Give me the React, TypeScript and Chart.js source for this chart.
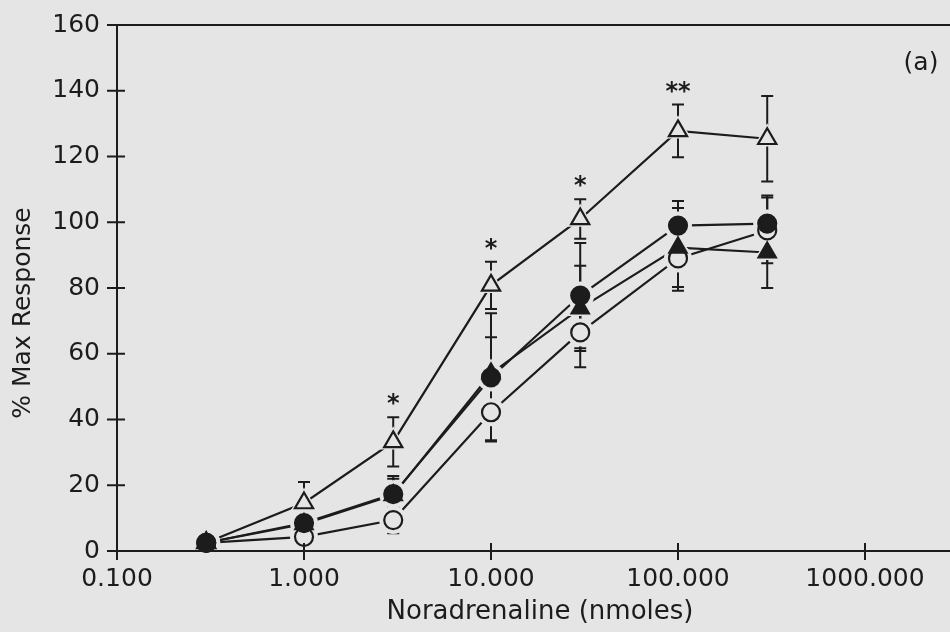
import { useEffect, useRef } from "react";
import { Chart, registerables } from "chart.js";

Chart.register(...registerables);

// ---- data ----
const doses = [0.3, 1, 3, 10, 30, 100, 300];

const openTriangle = [2.5, 14.6, 33.2, 80.8, 101, 127.8, 125.4];
const openTriangleErr = [0, 6.4, 7.5, 7.2, 6, 8, 13];

const filledCircle = [2.5, 8.5, 17.3, 52.8, 77.7, 99, 99.6];
const filledCircleErr = [0, 2, 5.5, 19.5, 16, 7.5, 8.5];

const filledTriangle = [2.5, 8.2, 17, 54, 73.8, 92.3, 90.8];
const filledTriangleErr = [0, 1.5, 5, 11, 13, 12, 10.8];

const openCircle = [2.5, 4.3, 9.4, 42.2, 66.5, 89, 97.5];
const openCircleErr = [0, 3, 4, 8.5, 10.6, 9.8, 10];

const starDoses = [3, 10, 30, 100];
const starLabels = ["*", "*", "*", "**"];

const xTickValues = [0.1, 1, 10, 100, 1000];
const xTickLabels = ["0.100", "1.000", "10.000", "100.000", "1000.000"];
const yTickValues = [0, 20, 40, 60, 80, 100, 120, 140, 160];

const xTitle = "Noradrenaline (nmoles)";
const yTitle = "% Max Response";
const panelLabel = "(a)";

// ---- styles ----
const BG = "#e5e5e5";
const INK = "#1c1c1c";
const FONT = "'DejaVu Sans', sans-serif";

type Series = {
  values: number[];
  err: number[];
  style: "triangle" | "circle";
  filled: boolean;
  r: number;
};

// first entry is drawn on top (Chart.js draws lower dataset index last)
const series: Series[] = [
  { values: filledCircle, err: filledCircleErr, style: "circle", filled: true, r: 9 },
  { values: filledTriangle, err: filledTriangleErr, style: "triangle", filled: true, r: 10 },
  { values: openTriangle, err: openTriangleErr, style: "triangle", filled: false, r: 10.5 },
  { values: openCircle, err: openCircleErr, style: "circle", filled: false, r: 9 },
];

const toPoints = (vals: number[]) => doses.map((x, i) => ({ x, y: vals[i] }));

export default function App() {
  const ref = useRef<HTMLCanvasElement | null>(null);

  useEffect(() => {
    if (!ref.current) return;
    const datasets: any[] = [];
    series.forEach((s) => {
      datasets.push({
        type: "line",
        data: toPoints(s.values),
        borderColor: INK,
        borderWidth: 2.2,
        pointRadius: 0,
        showLine: true,
        clip: false,
        order: 3,
      });
      datasets.push({
        type: "line",
        data: toPoints(s.values),
        showLine: false,
        pointStyle: s.style,
        pointRadius: s.r + 5,
        pointBackgroundColor: BG,
        pointBorderColor: BG,
        pointBorderWidth: 0,
        clip: false,
        order: 2,
      });
      datasets.push({
        type: "line",
        data: toPoints(s.values),
        showLine: false,
        pointStyle: s.style,
        pointRadius: s.r,
        pointBackgroundColor: s.filled ? INK : BG,
        pointBorderColor: INK,
        pointBorderWidth: 2.2,
        clip: false,
        order: 1,
      });
    });

    const bgPlugin = {
      id: "bg",
      beforeDraw(chart: any) {
        const ctx = chart.ctx;
        ctx.save();
        ctx.fillStyle = BG;
        ctx.fillRect(0, 0, chart.width, chart.height);
        ctx.restore();
      },
    };

    const errPlugin = {
      id: "errs",
      beforeDatasetsDraw(chart: any) {
        const ctx = chart.ctx;
        const xs = chart.scales.x;
        const ys = chart.scales.y;
        ctx.save();
        ctx.strokeStyle = INK;
        ctx.lineWidth = 2;
        series.forEach((s) => {
          doses.forEach((d, i) => {
            const e = s.err[i];
            if (!e) return;
            const px = xs.getPixelForValue(d);
            const top = ys.getPixelForValue(s.values[i] + e);
            const bot = ys.getPixelForValue(s.values[i] - e);
            ctx.beginPath();
            ctx.moveTo(px, top);
            ctx.lineTo(px, bot);
            ctx.moveTo(px - 6, top);
            ctx.lineTo(px + 6, top);
            ctx.moveTo(px - 6, bot);
            ctx.lineTo(px + 6, bot);
            ctx.stroke();
          });
        });
        ctx.restore();
      },
    };

    const axesPlugin = {
      id: "axes",
      afterDatasetsDraw(chart: any) {
        const ctx = chart.ctx;
        const a = chart.chartArea;
        const xs = chart.scales.x;
        const ys = chart.scales.y;
        ctx.save();
        ctx.strokeStyle = INK;
        ctx.lineWidth = 2;
        ctx.beginPath();
        ctx.moveTo(a.left, a.top);
        ctx.lineTo(a.left, a.bottom);
        ctx.moveTo(a.left - 10, a.bottom);
        ctx.lineTo(a.right, a.bottom);
        ctx.moveTo(a.left - 10, a.top);
        ctx.lineTo(a.right, a.top);
        yTickValues.forEach((v) => {
          const py = ys.getPixelForValue(v);
          ctx.moveTo(a.left - 10, py);
          ctx.lineTo(a.left + 8, py);
        });
        xTickValues.forEach((v) => {
          const px = xs.getPixelForValue(v);
          ctx.moveTo(px, a.bottom - 8);
          ctx.lineTo(px, a.bottom + 9);
        });
        ctx.stroke();

        // significance stars
        ctx.fillStyle = INK;
        ctx.font = `bold 24px ${FONT}`;
        ctx.textAlign = "center";
        ctx.textBaseline = "middle";
        starDoses.forEach((d, k) => {
          const i = doses.indexOf(d);
          const px = xs.getPixelForValue(d);
          const py = ys.getPixelForValue(openTriangle[i] + openTriangleErr[i]);
          ctx.fillText(starLabels[k], px, py - 12);
        });

        // titles
        ctx.font = `26px ${FONT}`;
        ctx.textBaseline = "middle";
        ctx.fillText(xTitle, 540, 612);
        ctx.font = `25px ${FONT}`;
        ctx.fillText(panelLabel, 921, 63);
        ctx.save();
        ctx.translate(23, 313);
        ctx.rotate(-Math.PI / 2);
        ctx.fillText(yTitle, 0, 0);
        ctx.restore();
        ctx.restore();
      },
    };

    const chart = new Chart(ref.current, {
      type: "line",
      data: { datasets },
      plugins: [bgPlugin, errPlugin, axesPlugin],
      options: {
        animation: false,
        responsive: false,
        layout: { autoPadding: false, padding: { top: 25, right: 0, left: 0, bottom: 0 } },
        plugins: { legend: { display: false }, tooltip: { enabled: false } },
        scales: {
          x: {
            type: "logarithmic",
            min: 0.1,
            max: 0.1 * Math.pow(10, 833 / 187),
            grid: { display: false, drawTicks: false },
            border: { display: false },
            afterBuildTicks: (scale: any) => {
              scale.ticks = xTickValues.map((value) => ({ value }));
            },
            afterFit: (scale: any) => {
              scale.height = 81;
              scale.paddingLeft = 0;
              scale.paddingRight = 0;
            },
            ticks: {
              autoSkip: false,
              maxRotation: 0,
              padding: 13,
              color: INK,
              font: { family: FONT, size: 25 },
              callback: (_v: any, index: number) => xTickLabels[index],
            },
          },
          y: {
            type: "linear",
            min: 0,
            max: 160,
            grid: { display: false, drawTicks: false },
            border: { display: false },
            afterBuildTicks: (scale: any) => {
              scale.ticks = yTickValues.map((value) => ({ value }));
            },
            afterFit: (scale: any) => {
              scale.width = 117;
              scale.paddingTop = 0;
              scale.paddingBottom = 0;
            },
            ticks: {
              padding: 17,
              color: INK,
              font: { family: FONT, size: 25 },
              callback: (v: any) => String(v),
            },
          },
        },
      },
    } as any);
    return () => chart.destroy();
  }, []);

  return (
    <div style={{ position: "fixed", left: 0, top: 0, width: 950, height: 632, background: BG }}>
      <canvas ref={ref} width={950} height={632} style={{ display: "block" }} />
    </div>
  );
}
